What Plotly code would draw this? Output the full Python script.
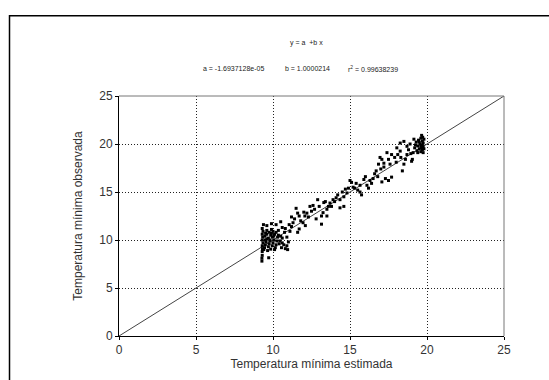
import plotly.graph_objects as go

x_est = [
    9.28, 9.28, 9.30, 9.30, 9.32, 9.30, 9.35, 9.30, 9.33, 9.30, 9.35, 9.30, 9.38, 9.72,
    9.45, 9.50, 9.55, 9.60, 9.48, 9.52, 9.60, 9.70, 9.75, 9.80, 9.70, 9.85, 9.75, 9.90,
    9.95, 10.00, 10.05, 9.95, 10.10, 10.00, 10.15, 10.20, 10.25, 10.30, 10.20, 10.35,
    10.40, 10.45, 10.50, 10.55, 10.60, 10.70, 10.80, 10.90, 11.00, 10.95, 9.60, 9.90,
    10.20, 10.50, 10.60, 10.75, 10.80, 9.40, 9.65, 9.85, 10.10, 9.50, 9.80, 10.05, 9.60,
    9.90, 10.35, 10.60, 10.90, 11.10, 11.20, 11.05,
    11.30, 11.40, 11.50, 11.60, 11.70, 11.70, 11.60, 11.95, 12.07, 12.20, 12.40, 12.50,
    12.70, 12.80, 12.90, 13.00, 13.15, 13.15, 13.25, 13.40, 13.50, 13.50, 13.60, 13.70,
    13.80, 13.90, 14.10, 14.35, 14.35, 14.60, 14.60, 14.80, 14.90, 15.00, 15.10, 15.20,
    15.30, 15.40, 15.65, 15.65, 15.75, 11.80, 12.00, 12.30, 12.60, 13.30, 14.00, 14.20,
    14.50, 14.70, 12.10, 11.20,
    16.10, 16.30, 16.40, 16.50, 16.70, 16.85, 16.95, 17.00, 17.07, 17.07, 17.20, 17.30,
    17.40, 17.50, 17.50, 17.60, 17.70, 17.70, 17.90, 18.00, 18.04, 18.26, 18.26, 18.40,
    18.50, 18.50, 18.60, 18.70, 18.80, 18.90, 19.00, 19.05, 19.10, 19.20, 19.30, 19.35,
    19.40, 19.45, 19.50, 19.55, 19.60, 19.60, 19.65, 19.65, 19.70, 19.70, 19.70, 19.72,
    19.75, 19.75, 19.75, 19.80, 19.80, 19.60, 19.50, 19.40, 19.25, 19.15, 18.95, 16.00,
    16.20, 15.90, 15.50, 16.60, 16.80, 17.20, 18.10, 18.30, 18.70,
]
y_obs = [
    7.80, 8.10, 8.40, 8.80, 9.10, 9.40, 9.70, 10.00, 10.30, 10.60, 10.90, 11.20, 11.60, 8.15,
    9.20, 9.50, 9.80, 10.10, 10.40, 10.70, 11.00, 9.30, 9.60, 9.90, 10.20, 10.50, 10.80, 11.10,
    9.40, 9.70, 10.00, 10.30, 10.60, 10.90, 9.20, 9.50, 9.90, 10.30, 10.80, 11.00,
    9.60, 9.90, 10.40, 9.20, 9.70, 9.50, 9.10, 9.40, 9.80, 9.00, 11.50, 11.70,
    11.60, 11.90, 11.30, 10.80, 11.20, 9.00, 8.90, 9.05, 9.00, 10.00, 10.00, 10.40, 10.60,
    10.70, 10.50, 10.20, 10.30, 10.90, 11.40, 11.60,
    11.80, 12.20, 13.30, 12.80, 12.50, 11.15, 10.80, 11.80, 12.50, 12.80, 13.50, 13.00,
    13.20, 12.20, 14.20, 13.50, 12.50, 11.65, 12.85, 14.00, 13.20, 12.50, 13.50, 13.85,
    13.50, 14.20, 14.40, 14.20, 13.35, 14.50, 13.50, 14.90, 15.40, 16.20, 16.00, 15.50,
    15.40, 15.90, 15.70, 15.00, 14.70, 12.00, 12.90, 12.40, 13.60, 13.90, 14.00, 14.70,
    15.00, 15.30, 11.50, 12.40,
    15.70, 16.20, 15.90, 16.40, 17.20, 17.90, 18.60, 17.40, 16.05, 18.40, 17.60, 16.40,
    19.10, 18.40, 16.20, 17.90, 18.90, 16.55, 18.60, 18.10, 19.60, 20.10, 19.26, 17.20,
    20.27, 17.90, 18.40, 19.76, 19.40, 20.00, 18.20, 18.40, 19.10, 19.60, 20.20, 19.30,
    19.80, 20.40, 19.50, 20.00, 19.20, 20.60, 19.60, 20.90, 19.40, 19.90, 20.30, 20.70,
    19.10, 19.70, 20.10, 20.50, 19.50, 19.80, 20.20, 19.10, 19.90, 20.50, 19.00, 16.60,
    15.40, 16.30, 15.20, 16.90, 16.60, 18.00, 18.90, 18.60, 18.90,
]

line_x = [0, 25]
line_y = [0, 25]
tick_vals = [0, 5, 10, 15, 20, 25]
tick_text = ["0", "5", "10", "15", "20", "25"]

FONT = "Arial, Liberation Sans, sans-serif"

fig = go.Figure()
fig.add_trace(go.Scatter(x=line_x, y=line_y, mode="lines",
                         line=dict(color="#444444", width=1), hoverinfo="skip"))
fig.add_trace(go.Scatter(x=x_est, y=y_obs, mode="markers",
                         marker=dict(symbol="square", size=3, color="black",
                                     line=dict(width=0))))

axis_common = dict(
    range=[0, 25], tickvals=tick_vals, ticktext=tick_text,
    showgrid=True, gridcolor="#222222", gridwidth=1, griddash="1px,2px",
    zeroline=False, showline=True, linecolor="black", linewidth=1,
    ticks="outside", ticklen=3, tickcolor="black",
    tickfont=dict(family=FONT, size=12, color="#333333"),
)

fig.update_layout(
    width=549, height=380,
    margin=dict(l=119, r=45, t=96, b=37),
    paper_bgcolor="white", plot_bgcolor="white",
    showlegend=False,
    font=dict(family=FONT, color="#333333"),
    xaxis=dict(**axis_common,
               title=dict(text="Temperatura mínima estimada",
                          font=dict(family=FONT, size=12, color="#333333"),
                          standoff=2)),
    yaxis=dict(**axis_common,
               title=dict(text="Temperatura mínima observada",
                          font=dict(family=FONT, size=12, color="#333333"),
                          standoff=14)),
)

# top and right plot borders (gray)
fig.add_shape(type="line", xref="paper", yref="paper", x0=0, x1=1, y0=1, y1=1,
              line=dict(color="#777777", width=1))
fig.add_shape(type="line", xref="paper", yref="paper", x0=1, x1=1, y0=0, y1=1,
              line=dict(color="#777777", width=1))

# outer frame (page box), extends beyond the window on right and bottom
fig.add_shape(type="path", xref="paper", yref="paper",
              path="M -0.2844,-0.3 L -0.2844,1.3344 L 1.3,1.3344",
              line=dict(color="black", width=1.5))

# regression text
small = dict(family=FONT, size=7, color="#222222")
fig.add_annotation(xref="paper", yref="paper", x=(306 - 119) / 385, y=(343 - 35) / 247,
                   text="y = a  +b x", showarrow=False, font=small)
fig.add_annotation(xref="paper", yref="paper", x=(201 - 119) / 385, y=(343 - 62) / 247,
                   xanchor="left", text="a = -1.6937128e-05", showarrow=False, font=small)
fig.add_annotation(xref="paper", yref="paper", x=(283 - 119) / 385, y=(343 - 62) / 247,
                   xanchor="left", text="b = 1.0000214", showarrow=False, font=small)
fig.add_annotation(xref="paper", yref="paper", x=(346 - 119) / 385, y=(343 - 62) / 247,
                   xanchor="left", text="r<sup>2</sup> = 0.99638239", showarrow=False,
                   font=small)

fig.write_html("out.html")
